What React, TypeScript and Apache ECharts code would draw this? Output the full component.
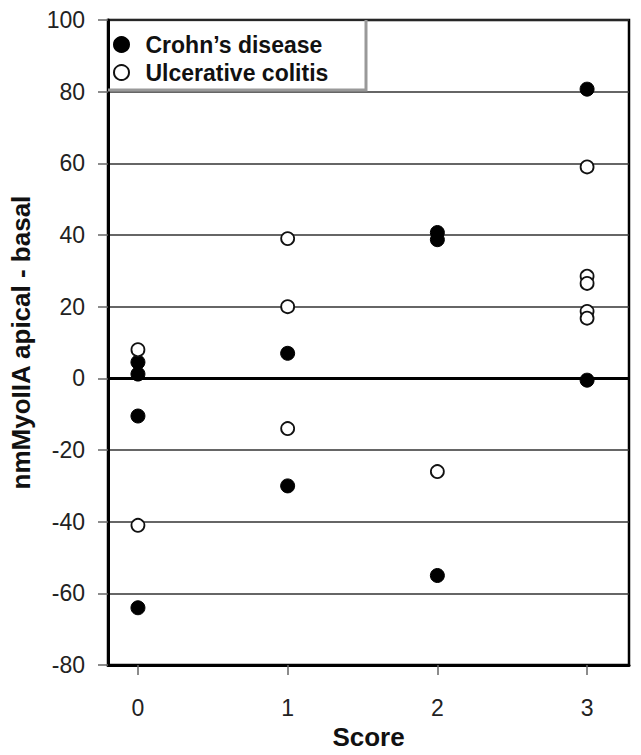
import React, { useEffect, useRef } from "react";
import * as echarts from "echarts";

const scoreTicks = [0, 1, 2, 3];
const crohnScore = [0, 0, 0, 0, 1, 1, 2, 2, 2, 3, 3];
const crohnValue = [4.5, 1.2, -10.5, -64, 7, -30, 40.7, 38.7, -55, 80.7, -0.5];
const ucScore = [0, 0, 1, 1, 1, 2, 3, 3, 3, 3, 3];
const ucValue = [8, -41, 39, 20, -14, -26, 59, 28.5, 26.5, 18.7, 16.8];
const yTicks = { min: -80, max: 100, step: 20 };

const FONT = "Liberation Sans, Arial, sans-serif";

export default function App() {
  const ref = useRef<HTMLDivElement>(null);
  useEffect(() => {
    if (!ref.current) return;
    document.body.style.margin = "0";
    const chart = echarts.init(ref.current, null, { renderer: "svg" });
    const crohnData = crohnScore.map((s, i) => [s, crohnValue[i]]);
    const ucData = ucScore.map((s, i) => [s, ucValue[i]]);
    chart.setOption({
      animation: false,
      backgroundColor: "#fff",
      textStyle: { fontFamily: FONT },
      grid: {
        left: 108,
        right: 12,
        top: 20,
        bottom: 89,
        show: true,
        borderColor: "#000",
        borderWidth: 2.5,
        backgroundColor: "transparent",
      },
      legend: {
        left: 108,
        top: 28,
        orient: "vertical",
        itemGap: 5,
        itemWidth: 38,
        itemHeight: 15,
        z: 20,
        textStyle: {
          fontFamily: FONT,
          fontSize: 23,
          fontWeight: "bold",
          color: "#111",
          lineHeight: 23,
        },
        data: [
          { name: "Crohn’s disease", icon: "circle" },
          { name: "Ulcerative colitis", icon: "circle" },
        ],
      },
      graphic: [
        {
          type: "rect",
          z: 5,
          shape: { x: 110, y: 21.5, width: 256, height: 68 },
          style: { fill: "#fff", stroke: "none" },
        },
        {
          type: "polyline",
          z: 6,
          shape: { points: [[366, 20], [366, 90], [108, 90]] },
          style: { stroke: "#999", lineWidth: 3, fill: "none" },
        },
      ],
      xAxis: {
        type: "value",
        min: -0.2,
        max: 3.28,
        name: "Score",
        nameLocation: "middle",
        nameGap: 56,
        nameTextStyle: { fontFamily: FONT, fontSize: 26, fontWeight: "bold", color: "#111" },
        axisLine: { show: true, onZero: false, lineStyle: { color: "#000", width: 3 } },
        axisTick: {
          show: true,
          customValues: scoreTicks,
          length: 10,
          lineStyle: { color: "#666", width: 1.5 },
        },
        axisLabel: {
          customValues: scoreTicks,
          margin: 31,
          fontFamily: FONT,
          fontSize: 23,
          color: "#222",
        },
        splitLine: { show: false },
      },
      yAxis: {
        type: "value",
        min: yTicks.min,
        max: yTicks.max,
        interval: yTicks.step,
        name: "nmMyoIIA apical - basal",
        nameLocation: "middle",
        nameGap: 74,
        nameTextStyle: { fontFamily: FONT, fontSize: 26, fontWeight: "bold", color: "#111" },
        axisLine: { show: true, onZero: false, lineStyle: { color: "#000", width: 3 } },
        axisTick: { show: true, length: 10, lineStyle: { color: "#666", width: 1.5 } },
        axisLabel: { margin: 23, fontFamily: FONT, fontSize: 23, color: "#222" },
        splitLine: { show: true, lineStyle: { color: "#333", width: 1.5 } },
      },
      series: [
        {
          name: "Crohn’s disease",
          type: "scatter",
          symbol: "circle",
          symbolSize: 14,
          z: 10,
          itemStyle: { color: "#000", borderColor: "#000", borderWidth: 1, opacity: 1 },
          data: crohnData,
          markLine: {
            silent: true,
            symbol: "none",
            label: { show: false },
            lineStyle: { color: "#000", width: 3, type: "solid" },
            data: [{ yAxis: 0 }],
            z: 3,
          },
        },
        {
          name: "Ulcerative colitis",
          type: "scatter",
          symbol: "circle",
          symbolSize: 13,
          z: 11,
          itemStyle: { color: "#fff", borderColor: "#111", borderWidth: 1.8, opacity: 1 },
          data: ucData,
        },
      ],
    });
    return () => chart.dispose();
  }, []);
  return <div ref={ref} style={{ width: 641, height: 755 }} />;
}
